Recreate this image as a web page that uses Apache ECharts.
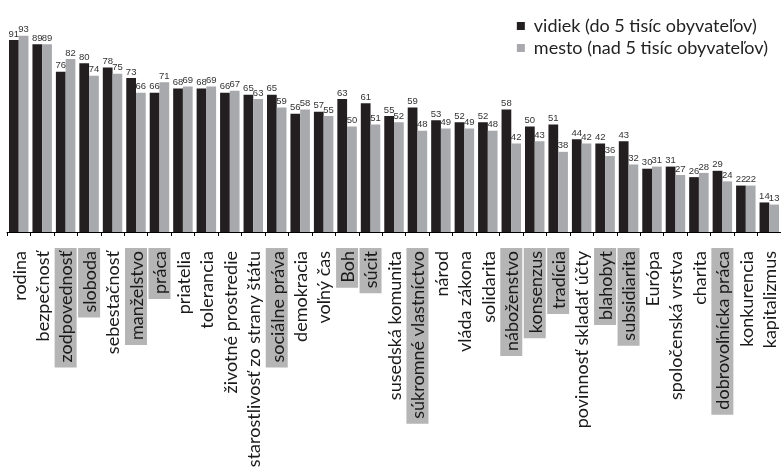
<!DOCTYPE html>
<html>
<head>
<meta charset="utf-8">
<script src="https://cdn.jsdelivr.net/npm/echarts@6/dist/echarts.min.js"></script>
<style>
html,body{margin:0;padding:0;background:#fff;}
#c{width:781px;height:476px;}
</style>
</head>
<body>
<div id="c"></div>
<script>
const categories = ["rodina","bezpečnosť","zodpovednosť","sloboda","sebestačnosť","manželstvo","práca","priatelia","tolerancia","životné prostredie","starostlivosť zo strany štátu","sociálne práva","demokracia","voľný čas","Boh","súcit","susedská komunita","súkromné vlastníctvo","národ","vláda zákona","solidarita","náboženstvo","konsenzus","tradícia","povinnosť skladať účty","blahobyt","subsidiarita","Európa","spoločenská vrstva","charita","dobrovoľnícka práca","konkurencia","kapitalizmus"];
const vidiek = [91,89,76,80,78,73,66,68,68,66,65,65,56,57,63,61,55,59,53,52,52,58,50,51,44,42,43,30,31,26,29,22,14];
const mesto  = [93,89,82,74,75,66,71,69,69,67,63,59,58,55,50,51,52,48,49,49,48,42,43,38,42,36,32,31,27,28,24,22,13];
const highlighted = ["zodpovednosť","sloboda","manželstvo","práca","sociálne práva","Boh","súcit","súkromné vlastníctvo","náboženstvo","konsenzus","tradícia","blahobyt","subsidiarita","dobrovoľnícka práca"];
const seriesNames = ["vidiek (do 5 tisíc obyvateľov)","mesto (nad 5 tisíc obyvateľov)"];

const chart = echarts.init(document.getElementById('c'));
const valueLabel = {
  show: true, position: 'top', distance: 1,
  fontFamily: 'Liberation Sans Narrow, Arial Narrow, sans-serif',
  fontSize: 9.5, color: '#333'
};
const pad = [3, 3, 1, 5];
const lblFont = 'Lato, sans-serif';
const lblSize = 18;
chart.setOption({
  animation: false,
  backgroundColor: '#fff',
  legend: {
    orient: 'vertical', right: 8, top: 12,
    itemWidth: 8, itemHeight: 8, itemGap: 4,
    icon: 'rect',
    textStyle: { fontFamily: lblFont, fontSize: 18, color: '#222', padding: [0,0,0,4] },
    data: seriesNames
  },
  grid: { left: 7, right: 0, top: 21, bottom: 244, containLabel: false },
  xAxis: {
    type: 'category', data: categories,
    axisLine: { lineStyle: { color: '#000', width: 1 } },
    axisTick: { show: true, length: 4, lineStyle: { color: '#000' } },
    axisLabel: {
      interval: 0, rotate: 90, margin: 16,
      fontFamily: lblFont, fontSize: lblSize, color: '#1a1a1a',
      formatter: v => highlighted.includes(v) ? '{h|' + v + '}' : '{n|' + v + '}',
      rich: {
        n: { padding: pad, fontFamily: lblFont, fontSize: lblSize, color: '#1a1a1a' },
        h: { padding: pad, backgroundColor: '#b5b5b5', fontFamily: lblFont, fontSize: lblSize, color: '#1a1a1a' }
      }
    }
  },
  yAxis: { type: 'value', min: 0, max: 100, show: false, splitLine: { show: false } },
  series: [
    { name: seriesNames[0], type: 'bar', data: vidiek, barGap: '0%', barCategoryGap: '17%',
      itemStyle: { color: '#231f20' }, label: valueLabel },
    { name: seriesNames[1], type: 'bar', data: mesto, barGap: '0%', barCategoryGap: '17%',
      itemStyle: { color: '#a7a9ac' }, label: valueLabel }
  ]
});
</script>
</body>
</html>
